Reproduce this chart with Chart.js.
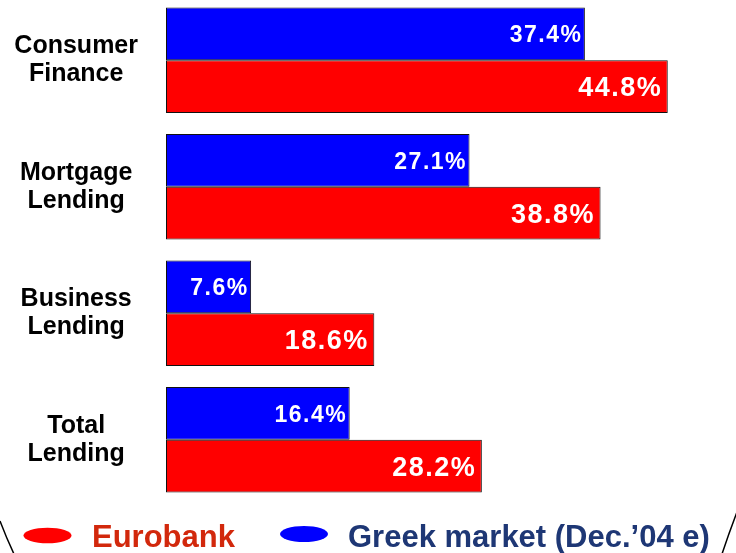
<!DOCTYPE html>
<html>
<head>
<meta charset="utf-8">
<script src="https://cdn.jsdelivr.net/npm/chart.js@4/dist/chart.umd.min.js"></script>
<style>
  html, body { margin: 0; padding: 0; background: #fff; overflow: hidden; }
  #wrap { position: absolute; left: 0; top: -3px; width: 736px; height: 556px; }
</style>
</head>
<body>
<div id="wrap"><canvas id="c" width="736" height="556"></canvas></div>
<script>
const categories = [['Consumer', 'Finance'], ['Mortgage', 'Lending'], ['Business', 'Lending'], ['Total', 'Lending']];
const greekMarket = [37.4, 27.1, 7.6, 16.4];
const eurobank = [44.8, 38.8, 18.6, 28.2];
const seriesNames = ['Greek market (Dec.\u201904 e)', 'Eurobank'];

const FONT = '"Liberation Sans", Arial, sans-serif';

const valueLabels = {
  id: 'valueLabels',
  afterDatasetsDraw(chart) {
    const ctx = chart.ctx;
    ctx.save();
    ctx.fillStyle = '#ffffff';
    ctx.textAlign = 'right';
    ctx.textBaseline = 'alphabetic';
    chart.data.datasets.forEach((ds, di) => {
      const meta = chart.getDatasetMeta(di);
      const size = di === 0 ? 23 : 27;
      const gap = di === 0 ? 4 : 7;
      ctx.font = 'bold ' + size + 'px ' + FONT;
      ctx.letterSpacing = '1.5px';
      meta.data.forEach((bar, i) => {
        const v = ds.data[i];
        ctx.fillText(v.toFixed(1) + '%', bar.x - gap + 1.5, bar.y + size * 0.716 / 2);
      });
    });
    ctx.restore();
  }
};

const customLegend = {
  id: 'customLegend',
  afterDraw(chart) {
    const ctx = chart.ctx;
    ctx.save();
    ctx.strokeStyle = '#000';
    ctx.lineWidth = 1.5;
    ctx.beginPath();
    ctx.moveTo(0, 524);
    ctx.quadraticCurveTo(6, 540, 14, 557);
    ctx.stroke();
    ctx.beginPath();
    ctx.moveTo(737, 515);
    ctx.quadraticCurveTo(729, 536, 722, 557);
    ctx.stroke();
    ctx.fillStyle = '#ff0000';
    ctx.beginPath();
    ctx.ellipse(47.5, 538.5, 24, 7.8, 0, 0, Math.PI * 2);
    ctx.fill();
    ctx.fillStyle = '#0000ff';
    ctx.beginPath();
    ctx.ellipse(304, 537, 24, 8, 0, 0, Math.PI * 2);
    ctx.fill();
    ctx.font = 'bold 31px ' + FONT;
    ctx.textAlign = 'left';
    ctx.textBaseline = 'alphabetic';
    ctx.fillStyle = '#d2280c';
    ctx.fillText(seriesNames[1], 92, 550);
    ctx.fillStyle = '#1e3775';
    ctx.fillText(seriesNames[0], 348, 550);
    ctx.restore();
  }
};

new Chart(document.getElementById('c'), {
  type: 'bar',
  data: {
    labels: categories,
    datasets: [
      {
        label: seriesNames[0],
        data: greekMarket,
        backgroundColor: '#0000ff',
        borderColor: '#111111',
        borderWidth: 1,
        borderSkipped: false
      },
      {
        label: seriesNames[1],
        data: eurobank,
        backgroundColor: '#ff0000',
        borderColor: '#111111',
        borderWidth: 1,
        borderSkipped: false
      }
    ]
  },
  options: {
    indexAxis: 'y',
    responsive: false,
    animation: false,
    events: [],
    layout: { padding: { left: 0, right: 10, top: 0, bottom: 50 } },
    datasets: { bar: { categoryPercentage: 0.835, barPercentage: 1.0 } },
    plugins: {
      legend: { display: false },
      tooltip: { enabled: false },
      title: { display: false }
    },
    scales: {
      x: { display: false, min: 0, max: 50 },
      y: {
        border: { display: false },
        grid: { display: false, drawTicks: false },
        ticks: {
          crossAlign: 'center',
          padding: 28,
          color: '#000000',
          font: { family: FONT, size: 25, weight: 'bold', lineHeight: 1.12 }
        },
        afterFit(scale) {
          scale.width = 166;
          scale.paddingTop = 0;
          scale.paddingBottom = 0;
        }
      }
    }
  },
  plugins: [valueLabels, customLegend]
});
</script>
</body>
</html>
